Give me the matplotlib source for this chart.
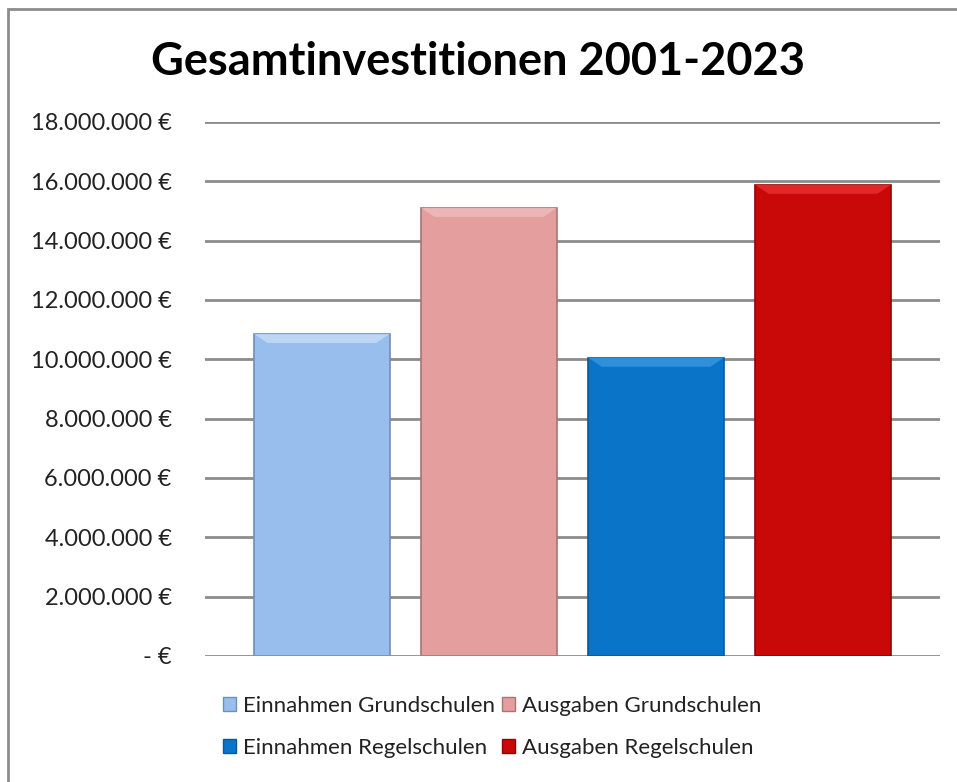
import matplotlib.pyplot as plt
from matplotlib.patches import Polygon, Rectangle
import numpy as np

plt.rcParams['font.family'] = ['Lato', 'DejaVu Sans']

# data
series = ['Einnahmen Grundschulen', 'Ausgaben Grundschulen',
          'Einnahmen Regelschulen', 'Ausgaben Regelschulen']
values = [10850000, 15100000, 10050000, 15880000]
colors = ['#97BEEC', '#E49E9E', '#0A74C8', '#C90808']
edges = ['#6F8FB5', '#A87474', '#085A9A', '#8E0606']
tops = ['#BCD6F4', '#ECB6B6', '#2E8FDA', '#E02828']
yticks = np.arange(0, 18000001, 2000000)


def euro(v):
    if v == 0:
        return '- €'
    return '{:,.0f} €'.format(v).replace(',', '.')


fig = plt.figure(figsize=(9.57, 7.82), dpi=100)
# chart frame
fig.add_artist(Rectangle((8 / 957, -0.1), 1.1, (782 - 9) / 782 + 0.1,
                         transform=fig.transFigure, fill=False,
                         edgecolor='#8C8C8C', linewidth=2))

ax = fig.add_axes([205 / 957, 1 - 656 / 782, 735 / 957, (656 - 122) / 782])
x = np.arange(len(values))
w = 0.81
ax.bar(x, values, width=w, color=colors, edgecolor=edges, linewidth=1.2,
       zorder=3)

# simple bevel on top of each bar
bev_x = 0.08
bev_y = 300000
for xi, v, c in zip(x, values, tops):
    l, r = xi - w / 2, xi + w / 2
    ax.add_patch(Polygon([[l, v], [r, v], [r - bev_x, v - bev_y],
                          [l + bev_x, v - bev_y]], closed=True,
                         facecolor=c, edgecolor='none', zorder=4))

ax.set_xlim(-0.7, 3.7)
ax.set_ylim(0, 18000000)
ax.set_yticks(yticks)
ax.set_yticklabels([euro(v) for v in yticks], fontsize=17, color='#222222')
ax.set_xticks([])
ax.yaxis.grid(True, color='#8C8C8C', linewidth=2, zorder=0)
ax.tick_params(axis='y', length=0, pad=24)
for s in ax.spines.values():
    s.set_visible(False)

fig.text(478 / 957, 1 - 62 / 782, 'Gesamtinvestitionen 2001-2023',
         ha='center', va='center', fontsize=32.5, fontweight='bold')

# legend filled row by row like the original
order = [0, 2, 1, 3]
handles = [Rectangle((0, 0), 1, 1, facecolor=colors[i], edgecolor=edges[i])
           for i in order]
leg = fig.legend(handles, [series[i] for i in order], loc='center', ncol=2,
                 bbox_to_anchor=(492 / 957, 1 - 727 / 782), frameon=False,
                 fontsize=16, handlelength=0.6, handleheight=0.6,
                 handletextpad=0.3, columnspacing=0.3, labelspacing=1.0)
for t in leg.get_texts():
    t.set_color('#222222')

fig.savefig('out.png', dpi=100)
